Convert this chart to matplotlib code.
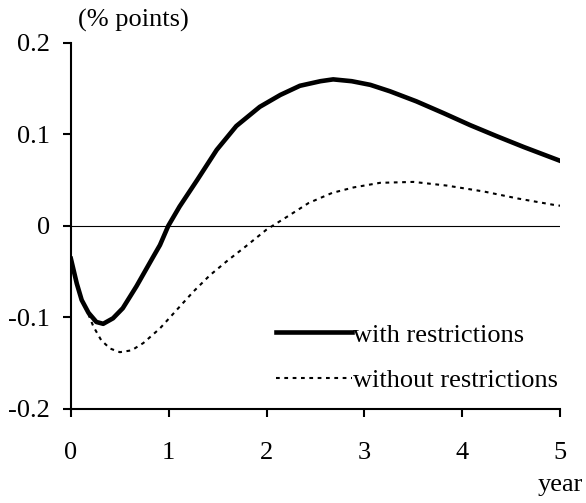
import matplotlib.pyplot as plt

plt.rcParams['font.family'] = ['Liberation Serif', 'DejaVu Serif']

# values
x_with = [0.0, 0.06, 0.11, 0.18, 0.26, 0.33, 0.43, 0.53, 0.67, 0.84, 0.91, 0.995,
          1.11, 1.29, 1.49, 1.69, 1.93, 2.14, 2.34, 2.55, 2.68, 2.87, 3.06, 3.26,
          3.53, 3.81, 4.08, 4.35, 4.63, 5.0]
y_with = [-0.036, -0.063, -0.081, -0.095, -0.105, -0.107, -0.101, -0.090, -0.066, -0.034, -0.021, 0.0,
          0.021, 0.050, 0.083, 0.109, 0.130, 0.143, 0.153, 0.158, 0.160, 0.158, 0.154, 0.147,
          0.136, 0.123, 0.110, 0.098, 0.086, 0.071]

x_without = [0.0, 0.06, 0.11, 0.18, 0.23, 0.31, 0.40, 0.50, 0.62, 0.74, 0.91, 1.08,
             1.25, 1.42, 1.60, 1.78, 2.0, 2.21, 2.43, 2.67, 2.89, 3.16, 3.50, 3.84,
             4.22, 4.56, 4.93, 5.0]
y_without = [-0.036, -0.063, -0.081, -0.097, -0.110, -0.125, -0.134, -0.138, -0.136, -0.128, -0.112, -0.092,
             -0.072, -0.054, -0.038, -0.023, -0.004, 0.010, 0.025, 0.036, 0.042, 0.047, 0.048, 0.044,
             0.0375, 0.030, 0.023, 0.022]

xticks = [0, 1, 2, 3, 4, 5]
yticks = [-0.2, -0.1, 0, 0.1, 0.2]
ylabels = ['-0.2', '-0.1', '0', '0.1', '0.2']

fig = plt.figure(figsize=(5.86, 5.03), dpi=100)
ax = fig.add_axes([0.121, 0.187, 0.835, 0.728])

ax.axhline(0, color='black', lw=0.8)
ax.plot(x_with, y_with, color='black', lw=3.3, solid_joinstyle='round', label='with restrictions')
ax.plot(x_without, y_without, color='black', lw=1.5, dashes=(1.8, 2.2), label='without restrictions')

ax.set_xlim(0, 5)
ax.set_ylim(-0.2, 0.2)
ax.set_xticks(xticks)
ax.set_yticks(yticks)
ax.set_yticklabels(ylabels)
ax.tick_params(direction='out', length=6, width=1.5, labelsize=19)
ax.tick_params(axis='x', pad=18)
ax.tick_params(axis='y', pad=9)
for s in ['top', 'right']:
    ax.spines[s].set_visible(False)
for s in ['left', 'bottom']:
    ax.spines[s].set_linewidth(1.5)

ax.legend(loc='lower right', bbox_to_anchor=(1.045, -0.018), frameon=False, fontsize=19,
          handlelength=2.9, handletextpad=0.05, labelspacing=0.82)

fig.text(0.133, 0.96, '(% points)', fontsize=19, ha='left', va='center')
fig.text(0.995, 0.035, 'year', fontsize=19, ha='right', va='center')

fig.savefig('out.png')
